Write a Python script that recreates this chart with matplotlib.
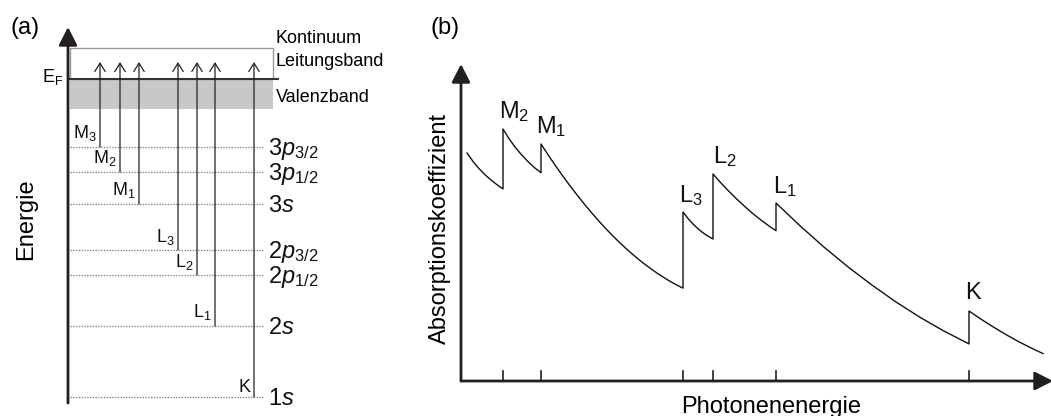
import matplotlib
matplotlib.use("Agg")
import matplotlib.pyplot as plt
from matplotlib.patches import Rectangle

plt.rcParams['font.family'] = ['Liberation Sans', 'DejaVu Sans']
plt.rcParams['mathtext.fontset'] = 'custom'
plt.rcParams['mathtext.rm'] = 'Liberation Sans'
plt.rcParams['mathtext.it'] = 'Liberation Sans:italic'
plt.rcParams['mathtext.bf'] = 'Liberation Sans:bold'

# ---------------- data ----------------
# Panel (a): energy levels (arbitrary energy units, measured upward from axis bottom)
level_names = [r'3$\mathit{p}_{\mathrm{3/2}}$', r'3$\mathit{p}_{\mathrm{1/2}}$', r'3$\mathit{s}$',
               r'2$\mathit{p}_{\mathrm{3/2}}$', r'2$\mathit{p}_{\mathrm{1/2}}$', r'2$\mathit{s}$',
               r'1$\mathit{s}$']
level_energy = [256, 231, 199, 153, 128, 77, 6]
edge_names = ['M$_3$', 'M$_2$', 'M$_1$', 'L$_3$', 'L$_2$', 'L$_1$', 'K']
fermi_energy = 324
valence_bottom = 294
continuum_top = 355
arrow_target = 341

# Panel (b): absorption curve segments (photon energy, absorption coefficient)
seg_x = [
    [6, 12, 18, 24, 30, 36, 42],
    [42, 48, 54, 60, 67, 73, 80],
    [80, 87, 94, 101, 108, 116, 124, 132, 141, 149, 157, 165, 174, 182, 191, 199, 207, 215, 222],
    [222, 227, 232, 237, 242, 247, 252],
    [252, 260, 268, 276, 284, 292, 300, 308, 315],
    [315, 339, 363, 387, 411, 435, 459, 483, 508],
    [508, 520, 533, 545, 557, 570, 582],
]
seg_y = [
    [228, 219.6, 212.4, 206.3, 201, 196.3, 192.1],
    [252, 242.4, 234, 226.8, 219.4, 213.7, 208.3],
    [237, 226.3, 216, 206.1, 196.5, 186.1, 176.1, 166.6, 156.5, 148, 140, 132.5, 124.6, 118.1,
     111.4, 105.9, 100.9, 96.4, 92.9],
    [169, 162.5, 157, 152.2, 148.2, 144.8, 142],
    [207, 198, 189.6, 181.7, 174.3, 167.3, 160.9, 155, 150.3],
    [178, 155.2, 133.9, 114.1, 95.9, 79, 63.7, 49.9, 37.1],
    [70, 61.8, 53.6, 46.4, 39.7, 33.1, 27.4],
]
edge_labels_b = ['M$_2$', 'M$_1$', 'L$_3$', 'L$_2$', 'L$_1$', 'K']
edge_energy = [42, 80, 222, 252, 315, 508]

W, H = 1051, 416
fig = plt.figure(figsize=(W / 100, H / 100), dpi=100)

def fpos(x, y):
    return x / W, 1 - y / H

AX = '#231f20'

# ---------------- panel (a) ----------------
axa = fig.add_axes([68 / W, (H - 403) / H, 232 / W, 376 / H])
axa.set_xlim(0, 232)
axa.set_ylim(0, 376)
axa.axis('off')

axa.annotate('', xy=(0, 376), xytext=(0, 0),
             arrowprops=dict(arrowstyle='-|>,head_length=0.55,head_width=0.28', lw=2.0,
                             color=AX, shrinkA=0, shrinkB=0, mutation_scale=20),
             annotation_clip=False)
axa.add_patch(Rectangle((2, valence_bottom), 203, fermi_energy - valence_bottom,
                        facecolor='#c8c8c8', edgecolor='none'))
axa.add_patch(Rectangle((2, fermi_energy), 203, continuum_top - fermi_energy,
                        facecolor='none', edgecolor='#9a9a9a', lw=1.0))
axa.plot([0, 210], [fermi_energy, fermi_energy], color='#333333', lw=1.5)

arrow_x = [32, 52, 71, 110, 129, 147, 186]
label_rise = [9, 9, 9, 8, 8, 9, 5]
for name, e, xa, en, rise in zip(level_names, level_energy, arrow_x, edge_names, label_rise):
    axa.plot([2, 195], [e, e], color='#8a8a8a', lw=1.0, linestyle=(0, (1, 1)))
    axa.annotate('', xy=(xa, arrow_target), xytext=(xa, e),
                 arrowprops=dict(arrowstyle='->,head_length=0.4,head_width=0.25', lw=0.9,
                                 color='#222222', shrinkA=0, shrinkB=0, mutation_scale=15))
    axa.text(xa - 3, e + rise, en, fontsize=13, ha='right', va='baseline', color='#111111')
    axa.text(200, e - 8, name, fontsize=17, ha='left', va='baseline', color='#111111')

axa.text(-26, 321, r'E$_\mathrm{F}$', fontsize=13, ha='left', va='baseline')
axa.text(208, 360, 'Kontinuum', fontsize=13, ha='left', va='baseline')
axa.text(208, 337, 'Leitungsband', fontsize=13, ha='left', va='baseline')
axa.text(208, 301, 'Valenzband', fontsize=13, ha='left', va='baseline')
axa.text(-42, 184, 'Energie', fontsize=17, rotation=90, ha='center', va='center')

fig.text(*fpos(10, 34), '(a)', fontsize=17, ha='left', va='baseline')
fig.text(*fpos(430, 34), '(b)', fontsize=17, ha='left', va='baseline')

# ---------------- panel (b) ----------------
axb = fig.add_axes([461 / W, (H - 381) / H, 590 / W, 317 / H])
axb.set_xlim(0, 590)
axb.set_ylim(0, 317)
axb.axis('off')

axb.annotate('', xy=(0, 317), xytext=(0, 0),
             arrowprops=dict(arrowstyle='-|>,head_length=0.55,head_width=0.28', lw=2.0,
                             color=AX, shrinkA=0, shrinkB=0, mutation_scale=20),
             annotation_clip=False)
axb.annotate('', xy=(592, 0), xytext=(0, 0),
             arrowprops=dict(arrowstyle='-|>,head_length=0.55,head_width=0.28', lw=2.0,
                             color=AX, shrinkA=0, shrinkB=0, mutation_scale=20),
             annotation_clip=False)

xs, ys = [], []
for sx, sy in zip(seg_x, seg_y):
    xs += sx
    ys += sy
axb.plot(xs, ys, color='#111111', lw=1.0, clip_on=False)

for xe in edge_energy:
    axb.plot([xe, xe], [0, 10], color=AX, lw=1.2)

label_pos = [(38, 263), (75, 248), (218, 179), (252, 218), (312, 188), (504, 82)]
for lab, (lx, ly) in zip(edge_labels_b, label_pos):
    axb.text(lx, ly, lab, fontsize=17, ha='left', va='baseline', color='#111111')

axb.text(310, -32, 'Photonenenergie', fontsize=17, ha='center', va='baseline')
axb.text(-21, 153, 'Absorptionskoeffizient', fontsize=17, rotation=90,
         ha='center', va='center')

fig.savefig('out.png', dpi=100)
